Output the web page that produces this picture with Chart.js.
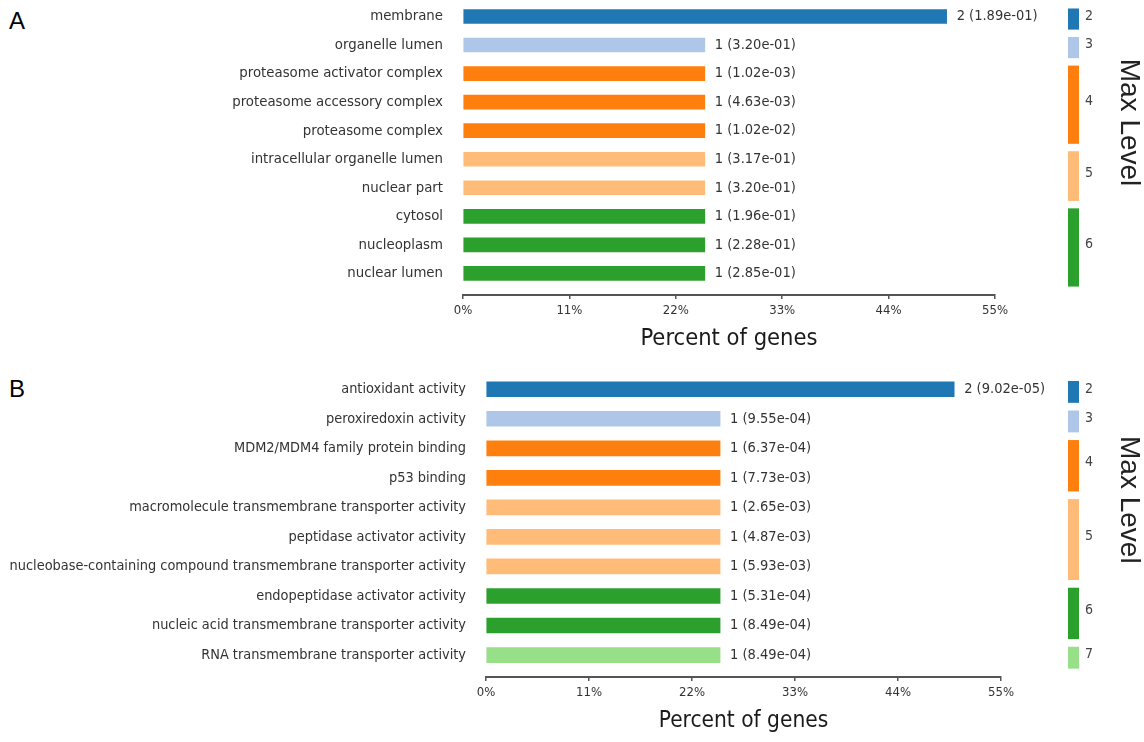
<!DOCTYPE html>
<html><head><meta charset="utf-8">
<script src="https://cdn.jsdelivr.net/npm/chart.js@4.4.1/dist/chart.umd.min.js"></script>
<style>
html,body{margin:0;padding:0;background:#fff;width:1144px;height:742px;overflow:hidden;}
.wrap{position:absolute;left:0;width:1144px;}
#wa{top:0;height:360px;}
#wb{top:370px;height:372px;}
.tag{position:absolute;left:9px;font:24px 'Liberation Sans',Arial,sans-serif;color:#000;line-height:1;}
</style></head><body>
<div class="tag" style="top:9px">A</div>
<div class="tag" style="top:377px">B</div>
<div class="wrap" id="wa"><canvas id="ca" width="1144" height="360"></canvas></div>
<div class="wrap" id="wb"><canvas id="cb" width="1144" height="372"></canvas></div>
<script>
// ---------- data ----------
const categoriesA = ["membrane","organelle lumen","proteasome activator complex","proteasome accessory complex","proteasome complex","intracellular organelle lumen","nuclear part","cytosol","nucleoplasm","nuclear lumen"];
const percentA = [50,25,25,25,25,25,25,25,25,25];
const countsA = [2,1,1,1,1,1,1,1,1,1];
const pvaluesA = ["1.89e-01","3.20e-01","1.02e-03","4.63e-03","1.02e-02","3.17e-01","3.20e-01","1.96e-01","2.28e-01","2.85e-01"];
const levelsA = [2,3,4,4,4,5,5,6,6,6];

const categoriesB = ["antioxidant activity","peroxiredoxin activity","MDM2/MDM4 family protein binding","p53 binding","macromolecule transmembrane transporter activity","peptidase activator activity","nucleobase-containing compound transmembrane transporter activity","endopeptidase activator activity","nucleic acid transmembrane transporter activity","RNA transmembrane transporter activity"];
const percentB = [50,25,25,25,25,25,25,25,25,25];
const countsB = [2,1,1,1,1,1,1,1,1,1];
const pvaluesB = ["9.02e-05","9.55e-04","6.37e-04","7.73e-03","2.65e-03","4.87e-03","5.93e-03","5.31e-04","8.49e-04","8.49e-04"];
const levelsB = [2,3,4,4,5,5,5,6,6,7];

const xTickValues = [0,11,22,33,44,55];
const levelColors = {2:"#1f77b4",3:"#aec7e8",4:"#ff7f0e",5:"#ffbb78",6:"#2ca02c",7:"#98df8a"};

// ---------- rendering ----------
const FAM = "'DejaVu Sans Condensed','DejaVu Sans',sans-serif";
Chart.defaults.font.family = FAM;
Chart.defaults.color = '#333';

const annot = {
  id: 'annot',
  afterDatasetsDraw(chart, args, opts) {
    const ctx = chart.ctx, ys = chart.scales.y;
    const meta = chart.getDatasetMeta(0);
    ctx.save();
    ctx.font = '14.5px ' + FAM;
    ctx.fillStyle = '#333';
    ctx.textBaseline = 'middle';
    ctx.textAlign = 'left';
    meta.data.forEach((bar, i) => {
      ctx.fillText(opts.counts[i] + ' (' + opts.pvals[i] + ')', bar.x + 10, bar.y);
    });
    // level legend
    const groups = [];
    opts.levels.forEach((lv, i) => {
      const g = groups[groups.length - 1];
      if (g && g.level === lv) g.last = i; else groups.push({level: lv, first: i, last: i});
    });
    let lt = Infinity, lb = -Infinity;
    groups.forEach(g => {
      const top = ys.getPixelForValue(g.first - 0.28);
      const bot = ys.getPixelForValue(g.last + 0.46);
      lt = Math.min(lt, top); lb = Math.max(lb, bot);
      ctx.fillStyle = levelColors[g.level];
      ctx.fillRect(opts.legendX, top, 11, bot - top);
      ctx.fillStyle = '#444';
      ctx.font = '14px ' + FAM;
      ctx.fillText(String(g.level), opts.legendX + 17, (top + bot) / 2 - 3);
    });
    ctx.translate(1129, (lt + lb) / 2 - 25);
    ctx.rotate(Math.PI / 2);
    ctx.textAlign = 'center';
    ctx.font = "28px 'Liberation Sans', Arial, sans-serif";
    ctx.fillStyle = '#222';
    ctx.fillText('Max Level', 0, 0);
    ctx.restore();
  }
};

function makeChart(id, cats, pct, counts, pvals, levels, cfg) {
  return new Chart(document.getElementById(id), {
    type: 'bar',
    data: {
      datasets: [{
        data: pct.map((v, i) => ({x: v, y: i})),
        backgroundColor: levels.map(l => levelColors[l]),
        borderWidth: 0,
        barThickness: cfg.barH
      }]
    },
    options: {
      indexAxis: 'y',
      responsive: false,
      animation: false,
      devicePixelRatio: 1,
      layout: {padding: {top: 0, right: cfg.padRight, left: 0, bottom: 0}},
      plugins: {
        legend: {display: false},
        tooltip: {enabled: false},
        annot: {counts, pvals, levels, legendX: 1068}
      },
      scales: {
        x: {
          type: 'linear', min: 0, max: 55, offset: false,
          afterBuildTicks: s => { s.ticks = xTickValues.map(v => ({value: v})); },
          ticks: {callback: v => v + '%', font: {size: 13}, color: '#333', padding: 4, autoSkip: false, maxRotation: 0},
          grid: {display: true, drawOnChartArea: false, drawTicks: true, tickLength: 4, color: '#555', lineWidth: 1.5, offset: false},
          border: {display: true, color: '#555', width: 2},
          title: {display: true, text: 'Percent of genes', font: {size: cfg.titleSize}, color: '#1a1a1a', padding: {top: 0, bottom: 7}},
          afterFit: s => { s.height = 65; }
        },
        y: {
          type: 'linear', reverse: true, min: cfg.yMin, max: cfg.yMax, offset: false,
          afterBuildTicks: s => { s.ticks = cats.map((_, i) => ({value: i})); },
          ticks: {callback: v => cats[v], font: {size: cfg.labelSize}, color: '#333', padding: 0, autoSkip: false},
          grid: {display: true, drawOnChartArea: false, drawTicks: true, tickLength: 20, color: 'rgba(0,0,0,0)', offset: false},
          border: {display: false},
          afterFit: s => { s.width = cfg.left; }
        }
      }
    },
    plugins: [annot]
  });
}

makeChart('ca', categoriesA, percentA, countsA, pvaluesA, levelsA, {barH: 14, padRight: 149, yMin: -0.266, yMax: 9.755, left: 463, labelSize: 14.8, titleSize: 23.5});
makeChart('cb', categoriesB, percentB, countsB, pvaluesB, levelsB, {barH: 15, padRight: 143, yMin: -0.359, yMax: 9.743, left: 486, labelSize: 14.4, titleSize: 22.5});
</script>
</body></html>
